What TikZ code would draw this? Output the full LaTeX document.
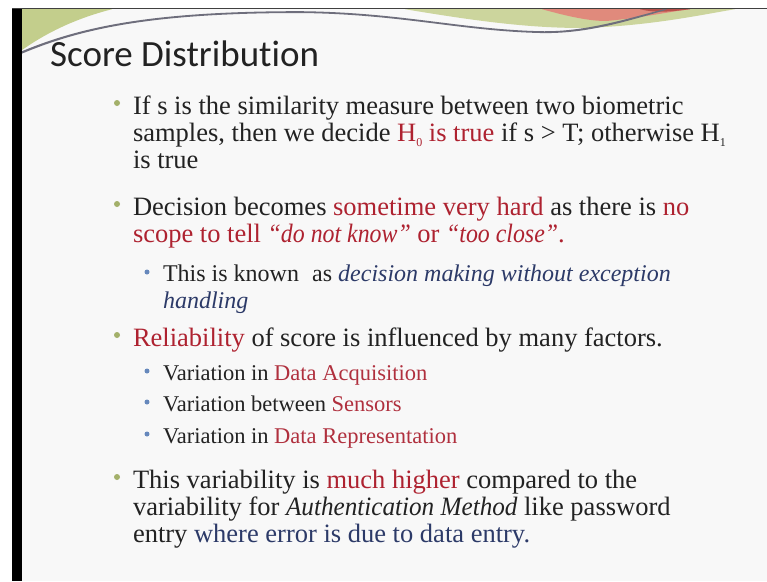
\documentclass[tikz,border=0pt]{standalone}
\usepackage{fontspec}
\setmainfont{Liberation Serif}
\newfontfamily\headfont[Ligatures=NoCommon]{Carlito}
\newfontface\narrowit[FakeStretch=0.9]{Liberation Serif Italic}
\newfontface\slimit[FakeStretch=0.95]{Liberation Serif Italic}

\definecolor{slidebg}{HTML}{F8F8F8}
\definecolor{ink}{HTML}{222222}
\definecolor{accentred}{HTML}{AE2230}
\definecolor{subred}{HTML}{B0303E}
\definecolor{navy}{HTML}{2C3A68}
\definecolor{olivedot}{HTML}{A3B06A}
\definecolor{bluedot}{HTML}{6688BC}
\definecolor{leafgreen}{HTML}{C3CE8C}
\definecolor{rosered}{HTML}{E08A7C}
\definecolor{deepred}{HTML}{B8504A}
\definecolor{swooshgray}{HTML}{6E6E7C}

\newcommand{\hl}[1]{\textcolor{accentred}{#1}}
\newcommand{\shl}[1]{\textcolor{subred}{#1}}
\newcommand{\lowidx}[1]{\raisebox{-0.22em}{\fontsize{12}{12}\selectfont #1}}

\begin{document}
\begin{tikzpicture}[x=1pt,y=-1pt,
  textline/.style={anchor=base west, inner sep=0pt, outer sep=0pt, text=ink,
               font=\fontsize{26.5}{30}\selectfont},
  subline/.style={textline, font=\fontsize{22.5}{26}\selectfont},
  noteline/.style={textline, font=\fontsize{24}{28}\selectfont},
  dotA/.style={circle, fill=olivedot, inner sep=0pt, minimum size=6pt},
  dotB/.style={circle, fill=bluedot, inner sep=0pt, minimum size=5pt},
  heading/.style={anchor=base west, inner sep=0pt, text=ink,
                  font=\headfont\fontsize{37}{40}\selectfont}]
\useasboundingbox (0,0) rectangle (767,581);

% page, slide area and frame
\fill[white] (0,0) rectangle (767,581);
\fill[slidebg] (22,9) rectangle (767,581);
\fill[black] (12,8) rectangle (22,581);

% top decoration: leaves
\fill[leafgreen]
  (22,9.2) -- (112,9.2) .. controls (70,20) and (42,36) .. (22,50) -- cycle;
\fill[leafgreen!85!white]
  (405,9.2) .. controls (470,20) and (525,28) .. (582,28)
  .. controls (650,26) and (700,15) .. (735,9.2) -- cycle;
\fill[rosered]
  (542,9.2) .. controls (570,17) and (590,21) .. (606,21)
  .. controls (640,18) and (668,12) .. (690,9.2) -- cycle;
\fill[deepred]
  (640,9.2) .. controls (655,13) and (668,12) .. (690,9.2) -- cycle;
% grey swoosh as a thin band
\fill[swooshgray]
  (22,51.2) .. controls (80,27.2) and (150,11.2) .. (300,11.2)
  .. controls (400,12.2) and (460,29.2) .. (540,31.2)
  .. controls (585,32.2) and (625,19.2) .. (664,9.2)
  -- (667,9.6)
  .. controls (627,21.2) and (586,34.2) .. (540,33)
  .. controls (460,31) and (400,14) .. (300,13)
  .. controls (150,13) and (80,29.2) .. (22,53.6) -- cycle;
\fill[black!75] (12,8) rectangle (767,9.3);

% title
\node[heading] (title) at (50,66) {Score Distribution};

% first bullet
\node[dotA] (b1) at (117,103) {};
\node[textline] (l1) at (133,114) {If s is the similarity measure between two biometric};
\node[textline] (l2) at (133,141) {samples, then we decide \hl{H\lowidx{0} is true} if s > T; otherwise H\lowidx{1}};
\node[textline] (l3) at (133,168) {is true};

% second bullet
\node[dotA] (b2) at (117,204) {};
\node[textline] (l4) at (133,215) {Decision becomes \hl{sometime very hard} as there is \hl{no}};
\node[textline, text=accentred] (l5) at (133,242) {scope to tell {\narrowit “do not know”} or {\narrowit “too close”}.};
\node[dotB] (s1) at (147,272) {};
\node[noteline] (l6) at (163,281) {This is known\hspace{0.3em} as \textcolor{navy}{\itshape decision making without exception}};
\node[noteline, text=navy] (l7) at (163,308) {\itshape handling};

% third bullet
\node[dotA] (b3) at (117,335) {};
\node[textline] (l8) at (133,346) {\hl{Reliability} of score is influenced by many factors.};
\node[dotB] (s2) at (147,371) {};
\node[subline] (l9) at (163,380) {Variation in \shl{Data Acquisition}};
\node[dotB] (s3) at (147,402) {};
\node[subline] (l10) at (163,411) {Variation between \shl{Sensors}};
\node[dotB] (s4) at (147,434) {};
\node[subline] (l11) at (163,443) {Variation in \shl{Data Representation}};

% fourth bullet
\node[dotA] (b4) at (117,477) {};
\node[textline] (l12) at (133,488) {This variability is \hl{much higher} compared to the};
\node[textline] (l13) at (133,515) {variability for {\slimit Authentication Method} like password};
\node[textline] (l14) at (133,542) {entry \textcolor{navy}{where error is due to data entry.}};
\end{tikzpicture}
\end{document}
